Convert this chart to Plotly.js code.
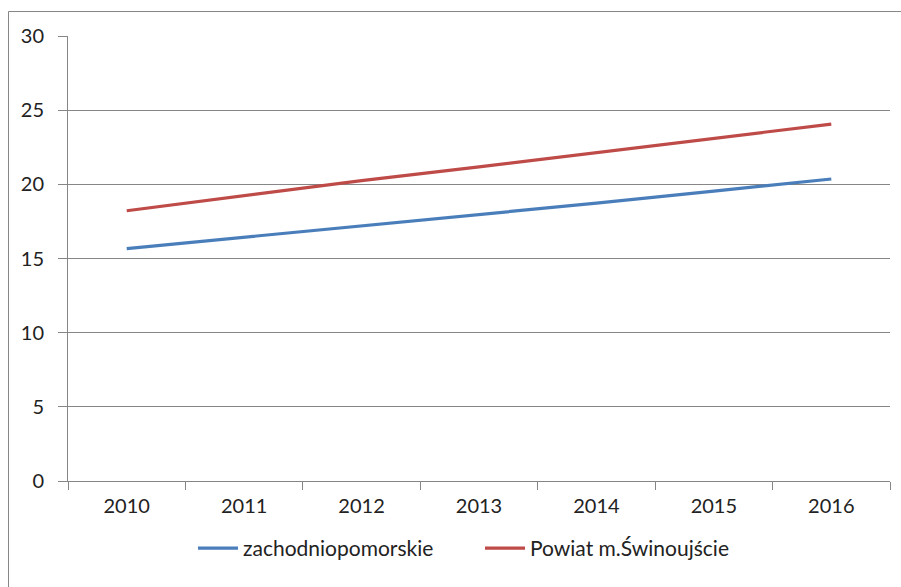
<!DOCTYPE html>
<html><head><meta charset="utf-8">
<script src="https://cdn.plot.ly/plotly-3.0.1.min.js"></script>
<style>body{margin:0;background:#fff}#c{width:901px;height:587px}</style>
</head><body><div id="c"></div>
<script>
const years = ['2010','2011','2012','2013','2014','2015','2016'];
const zachodniopomorskie = [15.67, 16.43, 17.18, 17.93, 18.73, 19.54, 20.36];
const swinoujscie = [18.22, 19.25, 20.25, 21.18, 22.15, 23.1, 24.06];
const seriesNames = ['zachodniopomorskie', 'Powiat m.Świnoujście'];

const W = 901, H = 587;
const L = 68, R = 11, T = 36, B = 105.5;
const pw = W - L - R, ph = H - T - B;
const px = v => (v - L) / pw;
const py = v => (H - B - v) / ph;

const FONT = 'Lato, "Open Sans", sans-serif';
const traces = [
  {x: years, y: zachodniopomorskie, name: seriesNames[0], type: 'scatter', mode: 'lines',
   line: {color: '#4A7EBB', width: 3.2}},
  {x: years, y: swinoujscie, name: seriesNames[1], type: 'scatter', mode: 'lines',
   line: {color: '#BE4B48', width: 3.2}}
];
const layout = {
  width: W, height: H,
  margin: {l: L, r: R, t: T, b: B, pad: 0},
  paper_bgcolor: '#fff', plot_bgcolor: '#fff',
  font: {family: FONT, size: 20, color: '#222'},
  showlegend: true,
  legend: {orientation: 'h', x: px(193), xanchor: 'left', y: py(549), yanchor: 'middle',
           entrywidth: 232, entrywidthmode: 'pixels',
           font: {family: FONT, size: 21, color: '#222'}, itemwidth: 40, tracegroupgap: 0},
  xaxis: {type: 'category', tickson: 'boundaries', ticks: 'outside', ticklen: 8, tickcolor: '#868686',
          showline: true, linecolor: '#868686', linewidth: 1, showgrid: false, zeroline: false,
          range: [-0.5, 6.5], ticklabelstandoff: 7, fixedrange: true},
  yaxis: {range: [0, 30], dtick: 5, tick0: 0, ticks: 'outside', ticklen: 9, tickcolor: '#868686',
          showline: true, linecolor: '#868686', linewidth: 1, showgrid: true, gridcolor: '#868686',
          gridwidth: 1, zeroline: false, ticklabelstandoff: 10, fixedrange: true},
  shapes: [
    {type: 'rect', xref: 'paper', yref: 'paper', x0: px(8.5), x1: px(W + 5), y0: py(H + 5), y1: py(11.5),
     line: {color: '#868686', width: 1}, fillcolor: 'rgba(0,0,0,0)', layer: 'below'}
  ]
};
Plotly.newPlot('c', traces, layout, {displayModeBar: false, staticPlot: true});
</script>
</body></html>
